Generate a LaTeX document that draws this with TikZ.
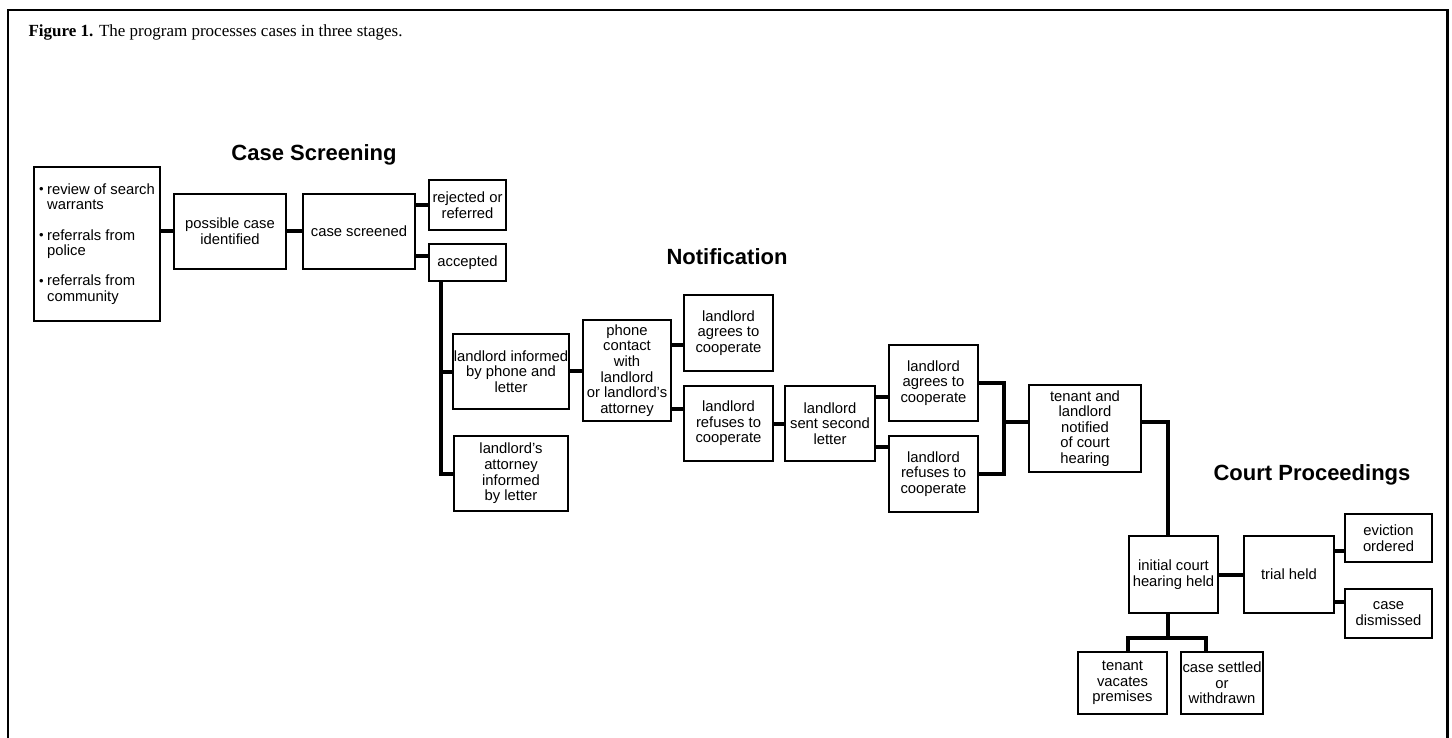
\documentclass[tikz,border=0pt]{standalone}
\usepackage{fontspec}
\setmainfont{Liberation Serif}
\setsansfont{Liberation Sans}

\newcommand{\bul}{\makebox[8pt][l]{\raisebox{0.5pt}{\fontsize{13}{13}\selectfont\textbullet}}}
\newcommand{\ind}{\hspace*{8pt}}

\begin{document}
\begin{tikzpicture}[x=1pt,y=-1pt]
	\tikzstyle{Box}   = [draw, line width=2pt, fill=white, inner sep=1pt, align=center, font=\sffamily\fontsize{14.8}{15.6}\selectfont]
	\tikzstyle{Link}  = [line width=4pt, line join=miter]
	\tikzstyle{Stage} = [font=\sffamily\bfseries\fontsize{22}{24}\selectfont]

	\useasboundingbox (0,0) rectangle (1452,738);
	\draw [line width=2.5pt] (8,738) -- (8,10) -- (1447.5,10) -- (1447.5,738);
	\node [anchor=base west, font=\fontsize{17}{19}\selectfont] (caption) at (25,37) {\textbf{Figure 1.} The program processes cases in three stages.};

	% stage titles
	\node [Stage] (screening) at (314,155) {Case Screening};
	\node [Stage] (notification) at (727,257) {Notification};
	\node [Stage] (court) at (1312,475) {Court Proceedings};

	% boxes
	\node [Box, align=left, minimum width=126pt, minimum height=154pt] (src) at (97,244)
		{\bul review of search\\\ind warrants\\[14.5pt]\bul referrals from\\\ind police\\[14.5pt]\bul referrals from\\\ind community};
	\foreach \n/\x/\y/\w/\h/\t in {
		possible/230/231.5/112/75/possible case\\identified,
		screened/359/231.5/112/75/case screened,
		rejected/467.5/205/77/50/rejected or\\referred,
		accepted/467.5/262.5/77/37/accepted,
		informed/511/371.5/114/75/landlord informed\\by phone and\\letter,
		attorney/511/473.5/114/75/landlord’s\\attorney\\informed\\by letter,
		phone/627/370.5/88/101/phone\\contact\\with\\landlord\\or landlord’s\\attorney,
		agrees1/728.5/333/89/76/landlord\\agrees to\\cooperate,
		refuses1/728.5/423.5/89/75/landlord\\refuses to\\cooperate,
		sent/830/423.5/90/75/landlord\\sent second\\letter,
		agrees2/933.5/383/89/76/landlord\\agrees to\\cooperate,
		refuses2/933.5/474/89/76/landlord\\refuses to\\cooperate,
		tenant/1085/428.5/112/87/tenant and\\landlord\\notified\\of court\\hearing,
		initial/1173.5/574.5/89/77/initial court\\hearing held,
		trial/1289/574.5/90/77/trial held,
		eviction/1388.5/538/87/48/eviction\\ordered,
		dismissed/1388.5/613.5/87/49/case\\dismissed,
		vacates/1122.5/683/89/62/tenant\\vacates\\premises,
		settled/1222/683/82/62/case settled\\or\\withdrawn}
		\node [Box, minimum width=\w pt, minimum height=\h pt] (\n) at (\x,\y) {\t};

	% straight links
	\foreach \a/\b/\s in {src/possible/0, possible/screened/0, screened/rejected/0, screened/accepted/6.5,
		informed/phone/0, phone/agrees1/-12, phone/refuses1/14.5, refuses1/sent/0, sent/agrees2/-14,
		sent/refuses2/27, initial/trial/0, trial/eviction/-13, trial/dismissed/11.5}
		\draw [Link] ([yshift=\s pt]\b.west) coordinate (e) -- (e -| \a.east);

	% accepted branches
	\coordinate (acc) at ([xshift=-26.5pt]accepted.south);
	\draw [Link] (acc) |- (attorney.west);
	\draw [Link] (informed.west) -- (informed.west -| acc);

	% merge into court notice
	\coordinate (mrg) at ([xshift=25pt]agrees2.east);
	\draw [Link] (agrees2.east) -- (mrg) |- (refuses2.east);
	\draw [Link] ([yshift=6.5pt]tenant.west) coordinate (e) -- (e -| mrg);
	\draw [Link] ([yshift=6.5pt]tenant.east) -| ([xshift=-5.5pt]initial.north);

	% hearing outcomes
	\coordinate (stem) at ([xshift=-5.5pt]initial.south);
	\path (stem) ++(0,24) coordinate (fork);
	\draw [Link] (stem) -- (fork);
	\draw [Link] ([xshift=5.5pt]vacates.north) |- (fork) -| ([xshift=-16pt]settled.north);
\end{tikzpicture}
\end{document}
